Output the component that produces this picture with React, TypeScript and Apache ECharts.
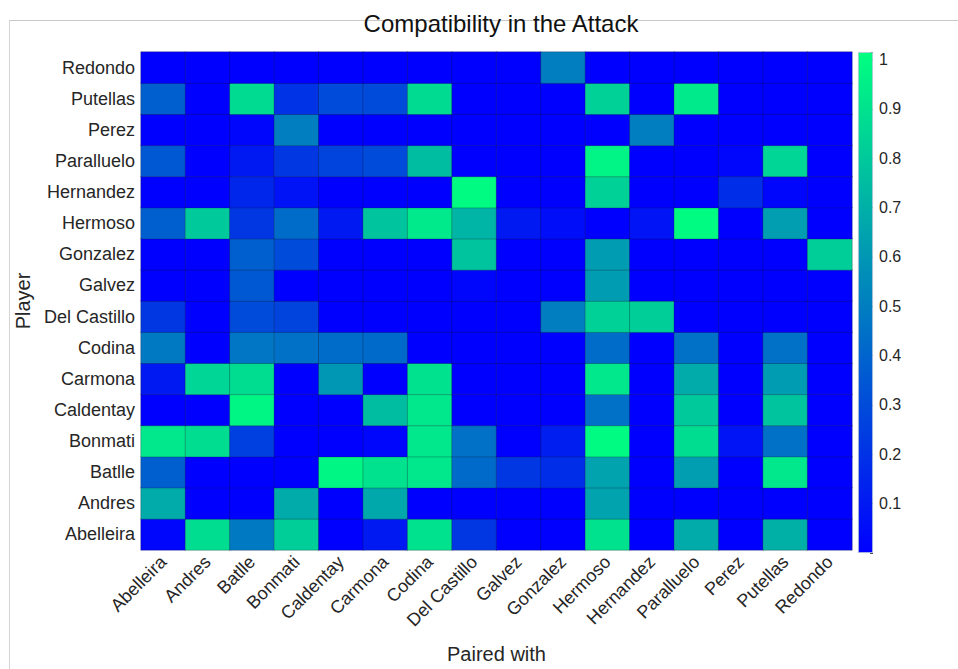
import React, { useEffect, useRef } from "react";
import * as echarts from "echarts";

const players = [
  "Abelleira", "Andres", "Batlle", "Bonmati", "Caldentay", "Carmona", "Codina", "Del Castillo",
  "Galvez", "Gonzalez", "Hermoso", "Hernandez", "Paralluelo", "Perez", "Putellas", "Redondo",
];

// Each row: player (y), values for paired-with players (x) in `players` order
const abelleira = [0.02, 0.88, 0.48, 0.82, 0, 0.1, 0.9, 0.22, 0, 0, 0.9, 0, 0.68, 0, 0.7, 0];
const andres = [0.68, 0, 0, 0.68, 0, 0.67, 0, 0, 0, 0, 0.65, 0, 0, 0, 0, 0];
const batlle = [0.38, 0, 0, 0, 0.98, 0.9, 0.92, 0.42, 0.22, 0.18, 0.65, 0, 0.63, 0, 0.92, 0];
const bonmati = [0.92, 0.88, 0.25, 0, 0, 0.02, 0.92, 0.45, 0, 0.12, 1.0, 0, 0.88, 0.08, 0.45, 0];
const caldentay = [0, 0, 0.98, 0, 0, 0.75, 0.92, 0, 0, 0, 0.45, 0, 0.8, 0, 0.78, 0];
const carmona = [0.1, 0.85, 0.88, 0, 0.6, 0, 0.9, 0, 0, 0, 0.92, 0, 0.68, 0, 0.62, 0];
const codina = [0.48, 0, 0.47, 0.45, 0.43, 0.42, 0, 0, 0, 0, 0.43, 0, 0.45, 0, 0.45, 0];
const delCastillo = [0.22, 0, 0.3, 0.27, 0, 0, 0, 0, 0, 0.5, 0.83, 0.82, 0, 0, 0, 0];
const galvez = [0, 0, 0.35, 0, 0, 0, 0, 0.02, 0, 0, 0.62, 0, 0, 0, 0, 0];
const gonzalez = [0, 0, 0.38, 0.3, 0, 0, 0, 0.78, 0, 0, 0.62, 0, 0, 0, 0, 0.82];
const hermoso = [0.38, 0.8, 0.22, 0.43, 0.1, 0.78, 0.93, 0.72, 0.1, 0.05, 0, 0.08, 1.0, 0, 0.63, 0];
const hernandez = [0, 0, 0.15, 0.07, 0, 0, 0, 1.0, 0, 0, 0.83, 0, 0, 0.18, 0.02, 0];
const paralluelo = [0.35, 0, 0.1, 0.22, 0.27, 0.3, 0.75, 0, 0, 0, 0.97, 0, 0, 0.02, 0.85, 0];
const perez = [0, 0, 0.02, 0.5, 0, 0, 0, 0, 0, 0, 0, 0.5, 0, 0, 0, 0];
const putellas = [0.38, 0, 0.87, 0.2, 0.3, 0.3, 0.87, 0, 0, 0, 0.83, 0, 0.93, 0, 0, 0];
const redondo = [0, 0, 0, 0, 0, 0, 0, 0, 0, 0.5, 0, 0, 0, 0, 0, 0];

const rows = [
  abelleira, andres, batlle, bonmati, caldentay, carmona, codina, delCastillo,
  galvez, gonzalez, hermoso, hernandez, paralluelo, perez, putellas, redondo,
];

const colorMin = 0;
const colorMax = 1.015;
const colorbarTicks = [0.1, 0.2, 0.3, 0.4, 0.5, 0.6, 0.7, 0.8, 0.9, 1];

const FONT = "Liberation Sans, Arial, Helvetica, sans-serif";
const TXT = "#262626";

export default function App() {
  const ref = useRef<HTMLDivElement>(null);

  useEffect(() => {
    if (!ref.current) return;
    const chart = echarts.init(ref.current, undefined, { renderer: "svg" });

    const data: number[][] = [];
    rows.forEach((row, yi) => {
      row.forEach((v, xi) => data.push([xi, yi, v]));
    });

    const option: any = {
      animation: false,
      backgroundColor: "#ffffff",
      title: {
        text: "Compatibility in the Attack",
        left: 496,
        top: 6,
        textAlign: "center",
        textStyle: { fontFamily: FONT, fontSize: 24, fontWeight: "normal", color: "#111" },
      },
      graphic: [
        { type: "line", shape: { x1: 9, y1: 20.5, x2: 958, y2: 20.5 }, style: { stroke: "#c8c8c8", lineWidth: 1 }, z: -1 },
        { type: "line", shape: { x1: 9.5, y1: 20, x2: 9.5, y2: 669 }, style: { stroke: "#d4d4d4", lineWidth: 1 }, z: -1 },
      ],
      visualMap: {
        type: "continuous",
        show: false,
        min: colorMin,
        max: colorMax,
        seriesIndex: 0,
        inRange: { color: ["#0000FF", "#00FF80"] },
      },
      grid: [
        { left: 141, top: 52, width: 711, height: 501 },
        { left: 858, top: 52, width: 15, height: 501 },
      ],
      xAxis: [
        {
          type: "category",
          gridIndex: 0,
          data: players,
          name: "Paired with",
          nameLocation: "middle",
          nameGap: 94,
          nameTextStyle: { fontFamily: FONT, fontSize: 20, color: TXT },
          axisLine: { show: false },
          axisTick: { show: false },
          splitLine: { show: false },
          axisLabel: { rotate: 45, margin: 9, fontFamily: FONT, fontSize: 18, color: TXT, interval: 0 },
        },
        {
          type: "category",
          gridIndex: 1,
          data: ["cb"],
          show: false,
        },
      ],
      yAxis: [
        {
          type: "category",
          gridIndex: 0,
          data: players,
          name: "Player",
          nameLocation: "middle",
          nameGap: 106,
          nameTextStyle: { fontFamily: FONT, fontSize: 20, color: TXT },
          axisLine: { show: false },
          axisTick: { show: false },
          splitLine: { show: false },
          axisLabel: { margin: 6, fontFamily: FONT, fontSize: 18, color: TXT, interval: 0 },
        },
        {
          type: "value",
          gridIndex: 1,
          position: "right",
          min: colorMin,
          max: colorMax,
          interval: 0.1,
          axisLine: { show: false },
          splitLine: { show: false },
          axisTick: {
            show: true,
            inside: true,
            length: 3,
            lineStyle: { color: "#444", width: 1 },
          },
          axisLabel: {
            margin: 6,
            fontFamily: FONT,
            fontSize: 16,
            color: TXT,
            formatter: (v: number) => {
              const r = Math.round(v * 10) / 10;
              if (Math.abs(v - r) > 0.001) return "";
              return colorbarTicks.includes(r) ? String(r) : "";
            },
          },
        },
      ],
      series: [
        {
          type: "heatmap",
          xAxisIndex: 0,
          yAxisIndex: 0,
          data,
          itemStyle: { borderColor: "rgba(20,20,40,0.45)", borderWidth: 0.6 },
          emphasis: { disabled: true },
        },
        {
          type: "bar",
          xAxisIndex: 1,
          yAxisIndex: 1,
          data: [colorMax],
          barWidth: "100%",
          silent: true,
          itemStyle: {
            color: new echarts.graphic.LinearGradient(0, 0, 0, 1, [
              { offset: 0, color: "#00FF80" },
              { offset: 1, color: "#0000FF" },
            ]),
            borderColor: "#b8c4d8",
            borderWidth: 0.8,
          },
        },
      ],
    };

    chart.setOption(option);
    return () => chart.dispose();
  }, []);

  return (
    <div
      ref={ref}
      style={{ position: "fixed", left: 0, top: 0, width: 958, height: 669, background: "#fff" }}
    />
  );
}
